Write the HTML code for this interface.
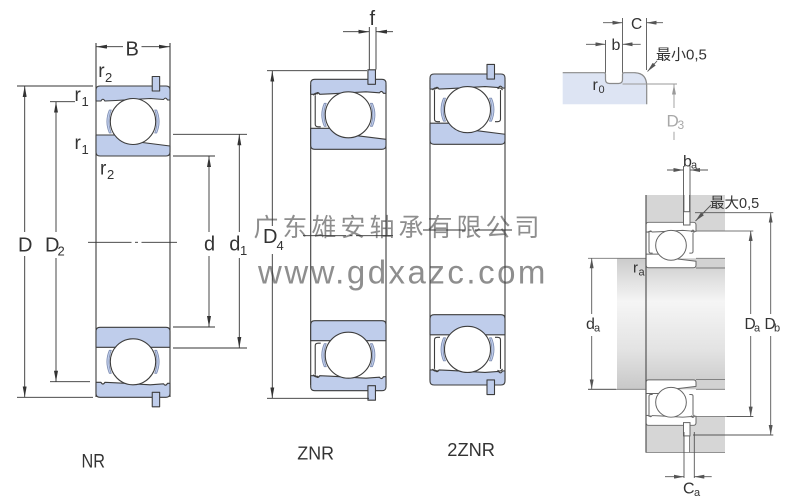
<!DOCTYPE html>
<html><head><meta charset="utf-8"><style>
html,body{margin:0;padding:0;background:#fff;}
svg{display:block;}
text{font-family:"Liberation Sans","Noto Sans CJK SC",sans-serif;}
</style></head><body>
<svg width="800" height="499" viewBox="0 0 800 499" xmlns="http://www.w3.org/2000/svg">
<defs>
<marker id="a" viewBox="0 0 11 4" refX="11" refY="2" markerWidth="11" markerHeight="4" markerUnits="userSpaceOnUse" orient="auto"><path d="M0,0 L11,2 L0,4 Z" fill="#333"/></marker>
<marker id="m" viewBox="0 0 10 4" refX="10" refY="2" markerWidth="10" markerHeight="4" markerUnits="userSpaceOnUse" orient="auto"><path d="M0,0 L10,2 L0,4 Z" fill="#555"/></marker>
<marker id="g" viewBox="0 0 10 4" refX="10" refY="2" markerWidth="10" markerHeight="4" markerUnits="userSpaceOnUse" orient="auto"><path d="M0,0 L10,2 L0,4 Z" fill="#9a9a9a"/></marker>
<linearGradient id="sh" x1="0" y1="0" x2="0" y2="1">
<stop offset="0" stop-color="#cbcbcb"/><stop offset="0.33" stop-color="#f5f5f5"/><stop offset="0.7" stop-color="#e3e3e3"/><stop offset="1" stop-color="#c8c8c8"/>
</linearGradient>
<path id="outer" d="M0,15 L0,4 Q0,0 4,0 L71,0 Q75,0 75,4 L75,14 L72.5,14 Q70.5,10.5 68.5,13.5 L55,12.5 L20,14.5 L9,15 Q7,11.5 5,15 Z"/>
<path id="innerS" d="M0,49 L30,49 L43,56 L75,60 L75,66 Q75,70 71,70 L4,70 Q0,70 0,66 Z"/>
<path id="innerF" d="M0,50 L75,50 L75,66 Q75,70 71,70 L4,70 Q0,70 0,66 Z"/>
<path id="cage" d="M13.5,24 Q8.5,35.5 13.5,47 L15.5,47 Q11,35.5 15.5,24 Z M61.5,24 Q66.5,35.5 61.5,47 L59.5,47 Q64,35.5 59.5,24 Z"/>
<circle id="ball" cx="37.5" cy="35.5" r="23" fill="#fff"/>
<path id="shL" fill="none" d="M2.5,16 Q4.5,12.5 7.5,14.8 M4.5,16 L4.5,45 Q4.5,47.5 7.5,47.5 L10,47.5"/>
<path id="shR" fill="none" d="M72.5,16 Q70.5,12.5 67.5,14.8 M70.5,16 L70.5,45 Q70.5,47.5 67.5,47.5 L65,47.5"/>
<rect id="snap" x="57" y="-9.5" width="7.5" height="14.5"/>
</defs>

<!-- watermark -->
<text y="236" font-size="25" fill="#8e8e8e" text-anchor="middle" x="266 295 324 353 382 411 440 469 498 527" style="font-family:'Noto Sans CJK SC','WenQuanYi Zen Hei',sans-serif">广东雄安轴承有限公司</text>
<text x="258" y="283.5" font-size="33" letter-spacing="2.5" fill="#8e8e8e">www.gdxazc.com</text>

<!-- bearing side lines -->
<g stroke="#3d3d3d" stroke-width="1.1" fill="none">
<line x1="96" y1="43" x2="96" y2="397"/>
<line x1="170" y1="43" x2="170" y2="397"/>
<line x1="310.7" y1="85" x2="310.7" y2="385"/>
<line x1="386" y1="85" x2="386" y2="385"/>
<line x1="430" y1="80" x2="430" y2="380"/>
<line x1="505" y1="80" x2="505" y2="380"/>
</g>

<!-- center lines -->
<g stroke="#333" stroke-width="0.9">
<line x1="88" y1="242.3" x2="131.5" y2="242.3"/><line x1="135" y1="242.3" x2="138" y2="242.3"/><line x1="141.5" y1="242.3" x2="177" y2="242.3"/>
<line x1="303" y1="235.7" x2="346" y2="235.7"/><line x1="349.5" y1="235.7" x2="352.5" y2="235.7"/><line x1="356" y1="235.7" x2="393" y2="235.7"/>
<line x1="423" y1="230" x2="465" y2="230"/><line x1="468.5" y1="230" x2="471.5" y2="230"/><line x1="475" y1="230" x2="512" y2="230"/>
</g>

<!-- bearing sections -->
<g fill="#bfcdeb" stroke="#3d3d3d" stroke-width="1.1" stroke-linejoin="round">
<g transform="translate(96,86) scale(0.9867,1)"><use href="#outer"/><use href="#innerS"/><use href="#cage" stroke="#7c8bb0" stroke-width="0.8"/><use href="#ball"/><use href="#snap"/></g>
<g transform="translate(96,397.3) scale(0.9867,-1)"><use href="#outer"/><use href="#innerF"/><use href="#cage" stroke="#7c8bb0" stroke-width="0.8"/><use href="#ball"/><use href="#snap"/></g>
<g transform="translate(310.7,79.3) scale(1.004,1)"><use href="#outer"/><use href="#innerS"/><use href="#cage" stroke="#7c8bb0" stroke-width="0.8"/><use href="#ball"/><use href="#shL"/><use href="#snap"/></g>
<g transform="translate(310.7,390.7) scale(1.004,-1)"><use href="#outer"/><use href="#innerF"/><use href="#cage" stroke="#7c8bb0" stroke-width="0.8"/><use href="#ball"/><use href="#shL"/><use href="#snap"/></g>
<g transform="translate(430,74) scale(1,1.004)"><use href="#outer"/><use href="#innerS"/><use href="#cage" stroke="#7c8bb0" stroke-width="0.8"/><use href="#ball"/><use href="#shL"/><use href="#shR"/><use href="#snap"/></g>
<g transform="translate(430,385) scale(1,-1.004)"><use href="#outer"/><use href="#innerF"/><use href="#cage" stroke="#7c8bb0" stroke-width="0.8"/><use href="#ball"/><use href="#shL"/><use href="#shR"/><use href="#snap"/></g>
</g>

<!-- NR dimensions -->
<g stroke="#333" stroke-width="0.9" fill="none">
<line x1="123" y1="46.7" x2="96" y2="46.7" marker-end="url(#a)"/>
<line x1="141.5" y1="46.7" x2="170" y2="46.7" marker-end="url(#a)"/>
<line x1="17" y1="86" x2="93" y2="86"/>
<line x1="17" y1="397.3" x2="93" y2="397.3"/>
<line x1="24.7" y1="232" x2="24.7" y2="86" marker-end="url(#a)"/>
<line x1="24.7" y1="256" x2="24.7" y2="397.3" marker-end="url(#a)"/>
<line x1="50" y1="101.7" x2="75" y2="101.7"/>
<line x1="50" y1="381.7" x2="90" y2="381.7"/>
<line x1="56" y1="232" x2="56" y2="101.7" marker-end="url(#a)"/>
<line x1="56" y1="258" x2="56" y2="381.7" marker-end="url(#a)"/>
<line x1="173" y1="156" x2="215" y2="156"/>
<line x1="173" y1="327" x2="215" y2="327"/>
<line x1="209" y1="232" x2="209" y2="156" marker-end="url(#a)"/>
<line x1="209" y1="256" x2="209" y2="327" marker-end="url(#a)"/>
<line x1="173" y1="134.3" x2="247" y2="134.3"/>
<line x1="173" y1="348" x2="247" y2="348"/>
<line x1="239.3" y1="232" x2="239.3" y2="134.3" marker-end="url(#a)"/>
<line x1="239.3" y1="258" x2="239.3" y2="348" marker-end="url(#a)"/>
<!-- ZNR -->
<line x1="369.3" y1="27" x2="369.3" y2="69.5"/>
<line x1="376" y1="27" x2="376" y2="69.5"/>
<line x1="343" y1="31.7" x2="369.3" y2="31.7" marker-end="url(#a)"/>
<line x1="393" y1="31.7" x2="376" y2="31.7" marker-end="url(#a)"/>
<line x1="267" y1="70.7" x2="367" y2="70.7"/>
<line x1="267" y1="398.3" x2="369" y2="398.3"/>
<line x1="272.3" y1="226" x2="272.3" y2="70.7" marker-end="url(#a)"/>
<line x1="272.3" y1="254" x2="272.3" y2="398.3" marker-end="url(#a)"/>
</g>

<!-- left labels -->
<g fill="#333">
<text x="125.5" y="55.5" font-size="20">B</text>
<text x="98.3" y="77" font-size="19">r</text><text x="105" y="82" font-size="13">2</text>
<text x="74.5" y="101" font-size="19">r</text><text x="81.5" y="106" font-size="13">1</text>
<text x="74.5" y="149" font-size="19">r</text><text x="81.5" y="154" font-size="13">1</text>
<text x="100" y="174.5" font-size="19">r</text><text x="107" y="179" font-size="13">2</text>
<text x="18" y="251.7" font-size="20">D</text>
<text x="45" y="251.7" font-size="20">D</text><text x="57.5" y="255.5" font-size="13">2</text>
<text x="204" y="250.7" font-size="20">d</text>
<text x="229.3" y="250.7" font-size="20">d</text><text x="240" y="255" font-size="13">1</text>
<text x="263" y="243" font-size="20">D</text><text x="276.5" y="250" font-size="13">4</text>
<text x="369.5" y="25" font-size="20">f</text>
<text x="81.5" y="467.3" font-size="19" textLength="23.5" lengthAdjust="spacingAndGlyphs">NR</text>
<text x="297.3" y="459.3" font-size="18.5" textLength="36.7" lengthAdjust="spacingAndGlyphs">ZNR</text>
<text x="447.3" y="456" font-size="18.5" textLength="47.7" lengthAdjust="spacingAndGlyphs">2ZNR</text>
</g>

<!-- top right detail -->
<path d="M562.7,72.7 L604,72.7 Q605.5,72.7 605.5,74.5 L605.5,79.5 Q605.5,83.5 609.5,83.5 L618.5,83.5 Q622.5,83.5 622.5,79.5 L622.5,74.5 Q622.5,72.7 624.5,72.7 L634,72.7 Q646.7,72.7 646.7,86 L646.7,104.3 L562.7,104.3 Z" fill="#dde4f3"/>
<path d="M562.7,72.7 L604,72.7 Q605.5,72.7 605.5,74.5 L605.5,79.5 Q605.5,83.5 609.5,83.5 L618.5,83.5 Q622.5,83.5 622.5,79.5 L622.5,74.5 Q622.5,72.7 624.5,72.7 L634,72.7 Q646.7,72.7 646.7,86 L646.7,104.3" fill="none" stroke="#8a8a8a" stroke-width="1.2"/>
<g stroke="#555" stroke-width="0.9" fill="none">
<line x1="622.5" y1="18" x2="622.5" y2="72.7"/>
<line x1="646.5" y1="18" x2="646.5" y2="70"/>
<line x1="605.5" y1="40" x2="605.5" y2="72.7"/>
<line x1="603" y1="22.7" x2="622.5" y2="22.7" marker-end="url(#m)"/>
<line x1="663" y1="22.7" x2="646.5" y2="22.7" marker-end="url(#m)"/>
<line x1="586" y1="44.3" x2="605.5" y2="44.3" marker-end="url(#m)"/>
<line x1="640.7" y1="44.3" x2="622.5" y2="44.3" marker-end="url(#m)"/>
<line x1="657" y1="61" x2="647.5" y2="71.5" marker-end="url(#m)"/>
</g>
<g stroke="#9a9a9a" stroke-width="0.9" fill="none">
<line x1="622.5" y1="84" x2="677" y2="84"/>
<line x1="674" y1="108" x2="674" y2="84.5" marker-end="url(#g)"/>
<line x1="674" y1="131.7" x2="674" y2="140"/>
</g>
<g fill="#333">
<text x="631" y="29" font-size="15.5">C</text>
<text x="611.5" y="50" font-size="16">b</text>
<text x="656" y="59.5" font-size="15">最小0,5</text>
<text x="592.5" y="90" font-size="16">r</text><text x="598.5" y="93" font-size="11">0</text>
</g>
<text x="666.5" y="126.5" font-size="17" fill="#a8a8a8">D</text><text x="677.5" y="129" font-size="12" fill="#a8a8a8">3</text>

<!-- assembly -->
<rect x="617" y="258.3" width="108" height="131" fill="url(#sh)"/>
<g id="asmTop">
<rect x="646" y="195" width="79" height="36" fill="#d6d6d6"/>
<rect x="696" y="258.3" width="29" height="9.7" fill="#d2d2d2"/>
<rect x="684" y="195" width="5.5" height="17" fill="#fff"/>
<g stroke="#777" stroke-width="0.9" fill="none">
<line x1="684" y1="195" x2="684" y2="212"/>
<line x1="689.5" y1="195" x2="689.5" y2="212"/>
<line x1="588" y1="258.3" x2="646" y2="258.3"/>
<line x1="696" y1="258.3" x2="725" y2="258.3"/>
<line x1="696" y1="268" x2="725" y2="268"/>
<line x1="696" y1="231" x2="753.3" y2="231"/>
</g>
<g transform="translate(646,222.3) scale(0.6667,0.6486)" fill="#fff" stroke="#666" stroke-width="1.5" stroke-linejoin="round">
<use href="#outer"/><use href="#innerS"/><use href="#ball"/><use href="#shL"/><use href="#shR"/>
</g>
<rect x="683.5" y="211.7" width="6.5" height="13.3" fill="#fff" stroke="#666" stroke-width="1"/>
</g>
<use href="#asmTop" transform="matrix(1 0 0 -1 0 647.6)"/>
<line x1="646" y1="195" x2="646" y2="452.6" stroke="#555" stroke-width="1.2"/>
<line x1="646" y1="452.6" x2="725" y2="452.6" stroke="#888" stroke-width="0.9"/>

<g stroke="#555" stroke-width="0.9" fill="none">
<line x1="683.5" y1="166" x2="683.5" y2="211.7"/>
<line x1="690" y1="166" x2="690" y2="211.7"/>
<line x1="667" y1="170" x2="683.5" y2="170" marker-end="url(#m)"/>
<line x1="708" y1="170" x2="690" y2="170" marker-end="url(#m)"/>
<line x1="711" y1="205" x2="695.5" y2="221" marker-end="url(#m)"/>
<line x1="695" y1="212.7" x2="773.3" y2="212.7"/>
<line x1="693" y1="435" x2="773.3" y2="435"/>
<line x1="770.7" y1="314" x2="770.7" y2="212.7" marker-end="url(#m)"/>
<line x1="770.7" y1="336" x2="770.7" y2="435" marker-end="url(#m)"/>
<line x1="726.7" y1="416.6" x2="753.3" y2="416.6"/>
<line x1="750.7" y1="314" x2="750.7" y2="231" marker-end="url(#m)"/>
<line x1="750.7" y1="336" x2="750.7" y2="416.6" marker-end="url(#m)"/>
<line x1="588" y1="389.3" x2="616" y2="389.3"/>
<line x1="591.7" y1="314" x2="591.7" y2="258.3" marker-end="url(#m)"/>
<line x1="591.7" y1="336" x2="591.7" y2="389.3" marker-end="url(#m)"/>
<line x1="684" y1="432" x2="684" y2="478"/>
<line x1="694.3" y1="432" x2="694.3" y2="478"/>
<line x1="665" y1="476.7" x2="684" y2="476.7" marker-end="url(#m)"/>
<line x1="711.7" y1="476.7" x2="694.3" y2="476.7" marker-end="url(#m)"/>
</g>
<g fill="#333">
<text x="683" y="166.5" font-size="16">b</text><text x="691" y="168.5" font-size="11">a</text>
<text x="710" y="208" font-size="14.5">最大0,5</text>
<text x="633" y="272.7" font-size="15">r</text><text x="638.5" y="275.5" font-size="11">a</text>
<text x="586" y="329" font-size="16">d</text><text x="594" y="331.5" font-size="11">a</text>
<text x="744.5" y="329" font-size="15.5">D</text><text x="754" y="331.5" font-size="11">a</text>
<text x="764.5" y="329" font-size="15.5">D</text><text x="774" y="331.5" font-size="11">b</text>
<text x="683" y="493.3" font-size="16">C</text><text x="694" y="496" font-size="11">a</text>
</g>
</svg>
</body></html>
